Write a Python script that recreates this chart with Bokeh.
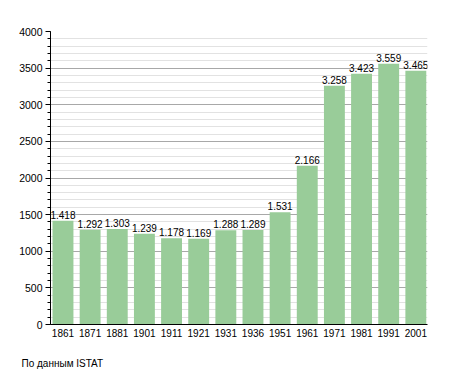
from bokeh.plotting import figure
from bokeh.models import Range1d, SingleIntervalTicker, FixedTicker, Title, ColumnDataSource, LabelSet
from bokeh.core.properties import value
from bokeh.embed import file_html
from bokeh.resources import INLINE

years = ["1861", "1871", "1881", "1901", "1911", "1921", "1931", "1936",
         "1951", "1961", "1971", "1981", "1991", "2001"]
population = [1418, 1292, 1303, 1239, 1178, 1169, 1288, 1289,
              1531, 2166, 3258, 3423, 3559, 3465]
source_note = "По данным  ISTAT"

FONT = "Liberation Sans"

xs = list(range(len(years)))
labels = [f"{v:,}".replace(",", ".") for v in population]
src = ColumnDataSource(dict(x=xs, y=population, lab=labels))

p = figure(width=446, height=373, output_backend="svg", toolbar_location=None,
           x_range=Range1d(-0.46, 13.43), y_range=Range1d(0, 4000),
           min_border_left=50, min_border_right=19, min_border_top=31, min_border_bottom=49)
p.outline_line_color = None
p.background_fill_color = "white"

p.vbar(x="x", top="y", width=0.77, source=src, fill_color="#99CC99", line_color=None)

p.add_layout(LabelSet(x="x", y="y", text="lab", source=src, text_align="center",
                      text_baseline="bottom", y_offset=2, text_font_size=value("10px"),
                      text_font=value(FONT), text_color="#000000"))

# y axis
p.yaxis.ticker = SingleIntervalTicker(interval=500, num_minor_ticks=5)
p.yaxis.axis_line_color = "black"
p.yaxis.major_tick_line_color = "black"
p.yaxis.minor_tick_line_color = "black"
p.yaxis.major_tick_out = 5
p.yaxis.major_tick_in = 0
p.yaxis.minor_tick_out = 3
p.yaxis.minor_tick_in = 0
p.yaxis.major_label_text_font_size = "10.5px"
p.yaxis.major_label_text_font = FONT
p.yaxis.major_label_text_color = "black"
p.yaxis.major_label_standoff = 3

# x axis
p.xaxis.ticker = FixedTicker(ticks=xs)
p.xaxis.major_label_overrides = {i: y for i, y in zip(xs, years)}
p.xaxis.axis_line_color = "black"
p.xaxis.major_tick_line_color = None
p.xaxis.minor_tick_line_color = None
p.xaxis.major_tick_out = 0
p.xaxis.major_tick_in = 0
p.xaxis.minor_tick_out = 0
p.xaxis.minor_tick_in = 0
p.xaxis.major_label_text_font_size = "10px"
p.xaxis.major_label_text_font = FONT
p.xaxis.major_label_text_color = "black"
p.xaxis.major_label_standoff = 4

# grids
p.xgrid.grid_line_color = None
p.ygrid.grid_line_color = "#a8a8a8"
p.ygrid.minor_grid_line_color = "#e2e2e2"
p.ygrid.level = "underlay"

spacer = Title(text=" ", standoff=0, text_font_size="10px", text_font=FONT)
p.add_layout(spacer, "below")
note = Title(text=source_note, align="left", offset=-29, standoff=6,
             text_font_size="10px", text_font=FONT, text_font_style="normal",
             text_color="black")
p.add_layout(note, "below")

open("out.html", "w").write(file_html(p, INLINE))
